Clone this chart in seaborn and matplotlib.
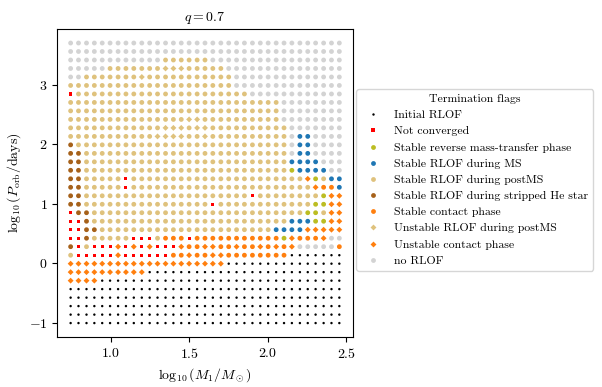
import numpy as np
import pandas as pd
import matplotlib
matplotlib.use('Agg')
import matplotlib.pyplot as plt
import seaborn as sns

plt.rcParams['font.family'] = 'serif'
plt.rcParams['font.serif'] = ['cmr10']
plt.rcParams['mathtext.fontset'] = 'cm'
plt.rcParams['axes.formatter.use_mathtext'] = True

# grid of log10(M1) and log10(P) values
log_m1 = [0.745, 0.795, 0.846, 0.896, 0.946, 0.996, 1.047, 1.097, 1.147, 1.198,
          1.248, 1.298, 1.349, 1.399, 1.449, 1.499, 1.550, 1.600, 1.650, 1.701,
          1.751, 1.801, 1.851, 1.902, 1.952, 2.002, 2.053, 2.103, 2.153, 2.204,
          2.254, 2.304, 2.355, 2.405, 2.455]
log_p = [-1.000, -0.858, -0.715, -0.573, -0.430, -0.288, -0.145, -0.003, 0.139, 0.282,
         0.424, 0.567, 0.709, 0.852, 0.994, 1.136, 1.279, 1.421, 1.564, 1.706,
         1.848, 1.991, 2.133, 2.276, 2.418, 2.561, 2.703, 2.845, 2.988, 3.130,
         3.273, 3.415, 3.558, 3.700]

# termination flag per grid row (run-length: flag code + count), top row = highest period
# . initial RLOF, x not converged, r reverse MT, b MS, t postMS, h stripped He,
# o contact, T unstable postMS, O unstable contact, g no RLOF
flag_rows = [
    "g35",
    "g35",
    "g12 t6 g17",
    "g5 t7 T3 t5 g15",
    "g2 t7 T1 t11 g14",
    "t21 g14",
    "x1 t22 g12",
    "t27 g8",
    "t27 g8",
    "t15 T2 t10 g8",
    "t12 T3 t1 T2 t10 g7",
    "t11 T4 t2 T1 t10 g1 b2 g4",
    "h1 t27 g1 b2 g4",
    "h2 t26 g1 b2 g4",
    "h2 t26 b4 g3",
    "h2 t26 r1 b4 g2",
    "h2 t5 x1 t22 O1 r1 t1 b2",
    "h2 t5 x1 t23 O1 o2 b1",
    "h2 t21 x1 t8 r1 O2",
    "h2 t16 x1 t12 r2 O2",
    "x1 h2 t27 r2 t1 O2",
    "x2 h1 t25 b3 r2 O2",
    "x2 h2 t22 b4 O5",
    "x2 h1 t5 x3 t1 o3 x1 o11 r1 O1 o3 O1 g2",
    "h1 x1 t1 x3 O1 x1 O1 x1 O1 x3 O1 o2 O2 o2 O1 o2 O1 o1 O1 o1 O1 g5 o1",
    "t1 x5 O1 x6 o2 O1 o1 o1 O2 o8 .7",
    "O20 .15",
    "O10 .25",
    "O4 .31",
    ".35",
    ".35",
    ".35",
    ".35",
    ".35",
]

flag_names = {
    '.': 'Initial RLOF',
    'x': 'Not converged',
    'r': 'Stable reverse mass-transfer phase',
    'b': 'Stable RLOF during MS',
    't': 'Stable RLOF during postMS',
    'h': 'Stable RLOF during stripped He star',
    'o': 'Stable contact phase',
    'T': 'Unstable RLOF during postMS',
    'O': 'Unstable contact phase',
    'g': 'no RLOF',
}
flag_order = list(flag_names.values())

colors = ['black', 'red', 'tab:olive', 'tab:blue', '#dfc27d', '#a6611a',
          'tab:orange', '#dfc27d', 'tab:orange', 'lightgrey']
markers = ['o', 's', 'o', 'o', 'o', 'o', 'o', 'D', 'D', 'o']
sizes = [3, 5, 12, 12, 12, 12, 12, 9, 9, 12]

records = []
for i, row in enumerate(flag_rows):
    y = log_p[len(log_p) - 1 - i]
    cells = ''.join(tok[0] * int(tok[1:]) for tok in row.split())
    assert len(cells) == len(log_m1), (i, len(cells))
    for j, ch in enumerate(cells):
        records.append((log_m1[j], y, flag_names[ch]))
df = pd.DataFrame(records, columns=['m1', 'p', 'flag'])

fig, ax = plt.subplots(figsize=(6.02, 3.87), dpi=100)
sns.scatterplot(data=df, x='m1', y='p', hue='flag', style='flag', size='flag',
                hue_order=flag_order, style_order=flag_order, size_order=flag_order,
                palette=dict(zip(flag_order, colors)),
                markers=dict(zip(flag_order, markers)),
                sizes=dict(zip(flag_order, sizes)),
                linewidth=0, ax=ax, legend='full')

ax.set_title(r'$q=0.7$', fontsize=10)
ax.set_xlabel(r'$\log_{10}(M_1/M_\odot)$', fontsize=10)
ax.set_ylabel(r'$\log_{10}(P_\mathrm{orb}/\mathrm{days})$', fontsize=10)
ax.set_xticks([1.0, 1.5, 2.0, 2.5])
ax.set_yticks([-1, 0, 1, 2, 3])

sns.move_legend(ax, 'center left', bbox_to_anchor=(1.0, 0.51), borderaxespad=0.3,
                title='Termination flags', fontsize=8.5, title_fontsize=8.5,
                frameon=True)

fig.subplots_adjust(left=0.095, right=0.586, bottom=0.129, top=0.925)
fig.savefig('out.png', dpi=100)
